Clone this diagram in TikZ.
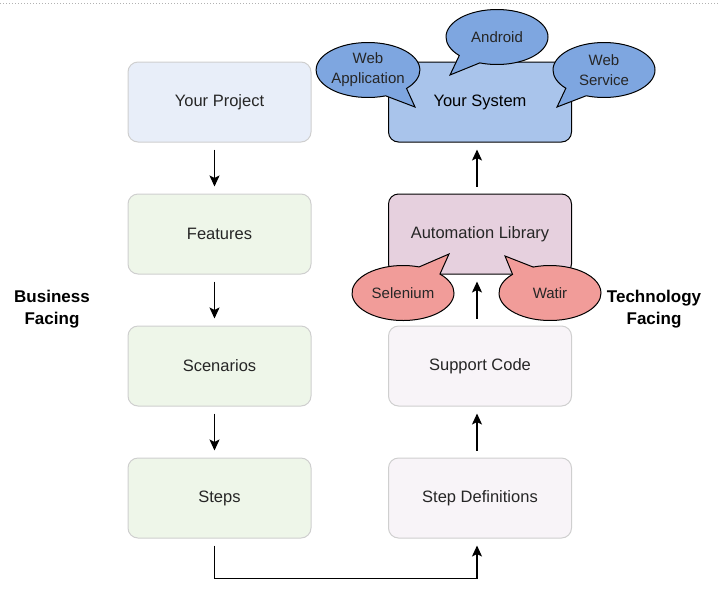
\documentclass[tikz,border=0pt]{standalone}
\usepackage{fontspec}
\setmainfont{Liberation Sans}
\usepackage{xcolor}
\usepackage{tikz}
\usetikzlibrary{positioning,arrows.meta,shapes.callouts}
\definecolor{projfill}{HTML}{E8EEF9}
\definecolor{bizfill}{HTML}{EEF6E9}
\definecolor{techfill}{HTML}{F8F4F8}
\definecolor{sysfill}{HTML}{A9C4EB}
\definecolor{libfill}{HTML}{E6D0DE}
\definecolor{bluebubble}{HTML}{7EA6E0}
\definecolor{redbubble}{HTML}{F19C99}
\definecolor{softline}{HTML}{CFCFCF}
\definecolor{labeltext}{HTML}{262626}
\tikzset{%
  every box/.style={
    rectangle,
    rounded corners=10pt,
    draw=softline,
    line width=1pt,
    minimum width=183pt,
    minimum height=80pt,
    text=labeltext,
    font=\fontsize{16.5}{20}\selectfont
  },
  business/.style={fill=bizfill},
  business 1/.style={fill=projfill},
  tech/.style={fill=techfill},
  tech 1/.style={fill=sysfill, draw=black, text=black},
  tech 2/.style={fill=libfill, draw=black},
  bubble/.style={
    ellipse callout,
    draw=black,
    line width=1pt,
    inner sep=0pt,
    minimum width=102pt,
    minimum height=55pt,
    callout pointer arc=28,
    align=center,
    text=labeltext,
    font=\fontsize{15}{20}\selectfont
  },
  side label/.style={
    align=center,
    font=\bfseries\fontsize{17}{22}\selectfont
  },
  flow/.style={
    ->,
    line width=1.3pt,
    shorten <=7pt,
    shorten >=7pt
  },
}

\begin{document}
\begin{tikzpicture}[x=1pt, y=-1pt, >={Stealth[length=11pt,width=10pt,inset=2.5pt]}]
        \useasboundingbox (0,0) rectangle (719,600);
        \draw [gray!60, dotted, line width=1pt] (0,3) -- (719,3);

        \foreach \l [count=\y] in {Your Project, Features, Scenarios, Steps}
          \node [every box/.try, business, business \y/.try] (business-\y) at (219.5,-30+132*\y) {\l};

        \foreach \l [count=\y] in {Your System, Automation Library, Support Code, Step Definitions}
          \node [every box/.try, tech, tech \y/.try] (tech-\y) at (480,-30+132*\y) {\l};

        \foreach \i [count=\j from 2] in {1,2,3}
          \draw [flow] ([xshift=-5pt]business-\i.south) -- ([xshift=-5pt]business-\j.north);

        \foreach \i [count=\j from 2] in {1,2,3}
          \draw [flow] ([xshift=-3pt]tech-\j.north) -- ([xshift=-3pt]tech-\i.south);

        \draw [flow] ([xshift=-5pt]business-4.south) -- ++(0,40) -| ([xshift=-3pt]tech-4.south);

        \foreach \n/\l/\p/\t in {webapp/{Web\\Application}/{(368,70)}/{(415,107)},
                                 android/{Android}/{(497,37)}/{(450,75)},
                                 webservice/{Web\\Service}/{(604,70)}/{(557,107)}}
          \node [bubble, fill=bluebubble, callout absolute pointer={\t}] (bubble-\n) at \p {\l};

        \foreach \n/\l/\p/\t in {selenium/{Selenium}/{(403,293)}/{(449,254)},
                                 watir/{Watir}/{(550,293)}/{(505,256)}}
          \node [bubble, fill=redbubble, callout absolute pointer={\t}] (bubble-\n) at \p {\l};

        \node [side label] (business-label) at (52,309) {Business\\Facing};
        \node [side label] (tech-label) at (654,309) {Technology\\Facing};
\end{tikzpicture}
\end{document}
